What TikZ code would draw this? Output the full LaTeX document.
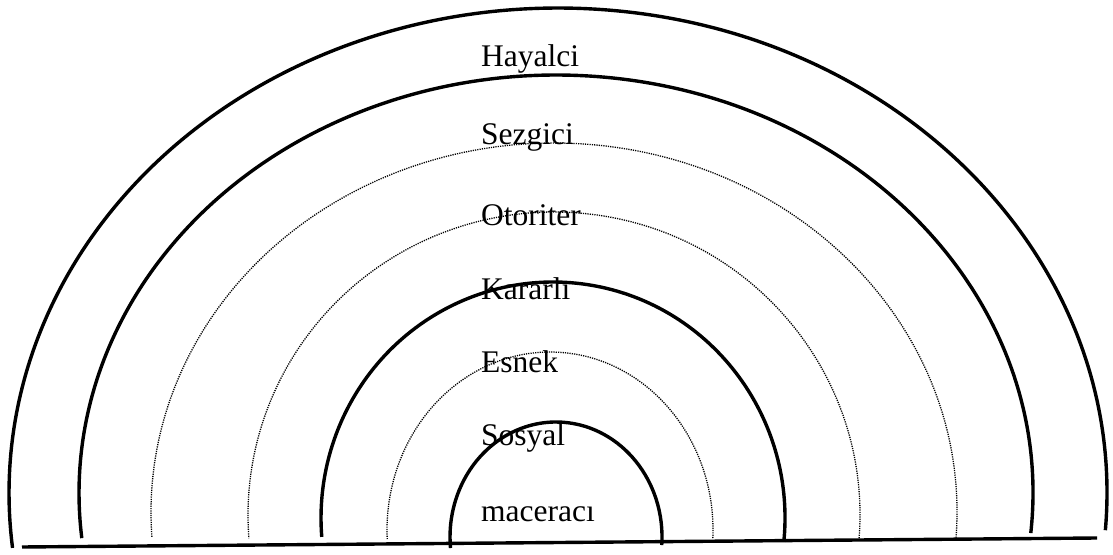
\documentclass[tikz,border=0pt]{standalone}
\usepackage{fontspec}
\setmainfont{Liberation Serif}
\begin{document}
\begin{tikzpicture}[x=1pt,y=1pt,
  solidarc/.style={line width=3.4pt},
  dotarc/.style={line width=1.3pt,dash pattern=on 1.2pt off 1.1pt},
  lbl/.style={anchor=base west,inner sep=0pt,font=\fontsize{31.5}{36}\selectfont}]
\useasboundingbox (0,0) rectangle (1113,554);
% arcs (center, x radius, y radius, right/left end angles)
\draw[solidarc] (558,61) ++(-4.4:549pt and 485pt) arc[start angle=-4.4,end angle=186.5,x radius=549pt,y radius=485pt];
\draw[solidarc] (556,61) ++(-5.5:477pt and 418pt) arc[start angle=-5.5,end angle=186.2,x radius=477pt,y radius=418pt];
\draw[dotarc] (554,42) ++(-4:403pt and 369pt) arc[start angle=-4,end angle=184,x radius=403pt,y radius=369pt];
\draw[dotarc] (554,39) ++(-4.4:306pt and 303pt) arc[start angle=-4.4,end angle=184.4,x radius=306pt,y radius=303pt];
\draw[solidarc] (553,36) ++(-5.8:232pt and 236pt) arc[start angle=-5.8,end angle=184.6,x radius=232pt,y radius=236pt];
\draw[dotarc] (550,24) ++(-2.6:163pt and 178pt) arc[start angle=-2.6,end angle=182.9,x radius=163pt,y radius=178pt];
\draw[solidarc] (556,17) ++(-4:106pt and 115pt) arc[start angle=-4,end angle=185.5,x radius=106pt,y radius=115pt];
% baseline
\coordinate (bl) at (22,7);
\coordinate (br) at (1097,16);
\draw[line width=3.4pt] (bl) -- (br);
% labels
\node[lbl] (hay) at (481,487) {Hayalci};
\node[lbl] (sez) at (481,409) {Sezgici};
\node[lbl] (oto) at (481,328) {Otoriter};
\node[lbl] (kar) at (481,254) {Kararlı};
\node[lbl] (esn) at (481,181) {Esnek};
\node[lbl] (sos) at (481,108) {Sosyal};
\node[lbl] (mac) at (481,33) {maceracı};
\end{tikzpicture}
\end{document}
